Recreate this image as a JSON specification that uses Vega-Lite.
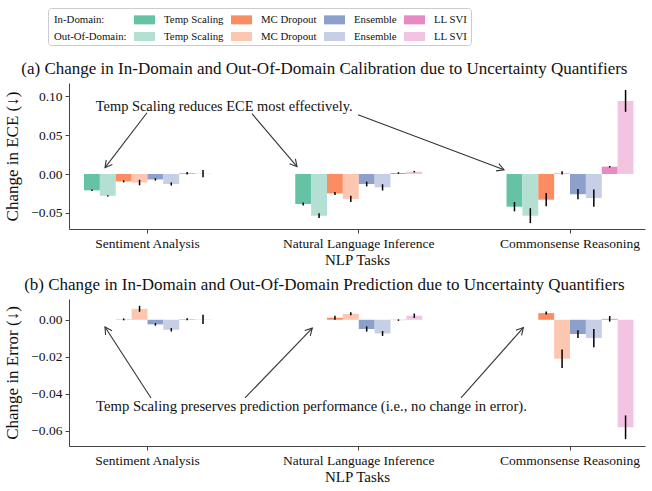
{
  "$schema": "https://vega.github.io/schema/vega-lite/v6.json",
  "background": "white",
  "padding": {"left": 3, "top": 7, "right": 5, "bottom": 5},
  "config": {
    "font": "Liberation Serif",
    "view": {"stroke": null},
    "axis": {"labelFont": "Liberation Serif", "titleFont": "Liberation Serif", "labelFontSize": 13.5, "titleFontSize": 17, "titleFontWeight": "normal", "domainColor": "#444", "tickColor": "#444", "labelColor": "#111", "titleColor": "#111", "grid": false, "tickSize": 4, "labelPadding": 3},
    "axisX": {"titleFontSize": 15},
    "title": {"font": "Liberation Serif", "fontSize": 17, "fontWeight": "normal", "color": "#111", "frame": "bounds", "anchor": "middle", "offset": 5},
    "legend": {"labelFont": "Liberation Serif", "labelColor": "#111"}
  },
  "datasets": {
    "ece": [
      {"task": "Sentiment Analysis", "series": "Temp Scaling|in", "value": -0.021, "err": 0.001},
      {"task": "Sentiment Analysis", "series": "Temp Scaling|out", "value": -0.028, "err": 0.0008},
      {"task": "Sentiment Analysis", "series": "MC Dropout|in", "value": -0.0095, "err": 0.0012},
      {"task": "Sentiment Analysis", "series": "MC Dropout|out", "value": -0.011, "err": 0.0035},
      {"task": "Sentiment Analysis", "series": "Ensemble|in", "value": -0.007, "err": 0.0015},
      {"task": "Sentiment Analysis", "series": "Ensemble|out", "value": -0.0128, "err": 0.002},
      {"task": "Sentiment Analysis", "series": "LL SVI|in", "value": 0.001, "err": 0.0015},
      {"task": "Sentiment Analysis", "series": "LL SVI|out", "value": 0.0005, "err": 0.0047},
      {"task": "Natural Language Inference", "series": "Temp Scaling|in", "value": -0.0386, "err": 0.002},
      {"task": "Natural Language Inference", "series": "Temp Scaling|out", "value": -0.0536, "err": 0.003},
      {"task": "Natural Language Inference", "series": "MC Dropout|in", "value": -0.025, "err": 0.002},
      {"task": "Natural Language Inference", "series": "MC Dropout|out", "value": -0.032, "err": 0.004},
      {"task": "Natural Language Inference", "series": "Ensemble|in", "value": -0.0129, "err": 0.003},
      {"task": "Natural Language Inference", "series": "Ensemble|out", "value": -0.0172, "err": 0.004},
      {"task": "Natural Language Inference", "series": "LL SVI|in", "value": 0.0013, "err": 0.001},
      {"task": "Natural Language Inference", "series": "LL SVI|out", "value": 0.003, "err": 0.001},
      {"task": "Commonsense Reasoning", "series": "Temp Scaling|in", "value": -0.042, "err": 0.006},
      {"task": "Commonsense Reasoning", "series": "Temp Scaling|out", "value": -0.0536, "err": 0.0096},
      {"task": "Commonsense Reasoning", "series": "MC Dropout|in", "value": -0.033, "err": 0.0085},
      {"task": "Commonsense Reasoning", "series": "MC Dropout|out", "value": 0.0015, "err": 0.002},
      {"task": "Commonsense Reasoning", "series": "Ensemble|in", "value": -0.026, "err": 0.0066},
      {"task": "Commonsense Reasoning", "series": "Ensemble|out", "value": -0.031, "err": 0.011},
      {"task": "Commonsense Reasoning", "series": "LL SVI|in", "value": 0.0094, "err": 0.001},
      {"task": "Commonsense Reasoning", "series": "LL SVI|out", "value": 0.094, "err": 0.014}
    ],
    "err": [
      {"task": "Sentiment Analysis", "series": "Temp Scaling|in", "value": 0.0, "err": 0.0},
      {"task": "Sentiment Analysis", "series": "Temp Scaling|out", "value": 0.0, "err": 0.0},
      {"task": "Sentiment Analysis", "series": "MC Dropout|in", "value": 0.0002, "err": 0.0005},
      {"task": "Sentiment Analysis", "series": "MC Dropout|out", "value": 0.0059, "err": 0.0016},
      {"task": "Sentiment Analysis", "series": "Ensemble|in", "value": -0.0025, "err": 0.0007},
      {"task": "Sentiment Analysis", "series": "Ensemble|out", "value": -0.0054, "err": 0.0009},
      {"task": "Sentiment Analysis", "series": "LL SVI|in", "value": 0.0003, "err": 0.0005},
      {"task": "Sentiment Analysis", "series": "LL SVI|out", "value": 0.0002, "err": 0.0025},
      {"task": "Natural Language Inference", "series": "Temp Scaling|in", "value": 0.0, "err": 0.0},
      {"task": "Natural Language Inference", "series": "Temp Scaling|out", "value": 0.0, "err": 0.0},
      {"task": "Natural Language Inference", "series": "MC Dropout|in", "value": 0.0011, "err": 0.0011},
      {"task": "Natural Language Inference", "series": "MC Dropout|out", "value": 0.0032, "err": 0.0008},
      {"task": "Natural Language Inference", "series": "Ensemble|in", "value": -0.005, "err": 0.0014},
      {"task": "Natural Language Inference", "series": "Ensemble|out", "value": -0.0074, "err": 0.0013},
      {"task": "Natural Language Inference", "series": "LL SVI|in", "value": -0.0002, "err": 0.0004},
      {"task": "Natural Language Inference", "series": "LL SVI|out", "value": 0.0022, "err": 0.0012},
      {"task": "Commonsense Reasoning", "series": "Temp Scaling|in", "value": 0.0, "err": 0.0},
      {"task": "Commonsense Reasoning", "series": "Temp Scaling|out", "value": 0.0, "err": 0.0},
      {"task": "Commonsense Reasoning", "series": "MC Dropout|in", "value": 0.0036, "err": 0.0008},
      {"task": "Commonsense Reasoning", "series": "MC Dropout|out", "value": -0.021, "err": 0.005},
      {"task": "Commonsense Reasoning", "series": "Ensemble|in", "value": -0.0077, "err": 0.0021},
      {"task": "Commonsense Reasoning", "series": "Ensemble|out", "value": -0.0099, "err": 0.0049},
      {"task": "Commonsense Reasoning", "series": "LL SVI|in", "value": 0.0005, "err": 0.0015},
      {"task": "Commonsense Reasoning", "series": "LL SVI|out", "value": -0.058, "err": 0.0064}
    ],
    "noteA": [{"label": "Temp Scaling reduces ECE most effectively.", "u": 0.363, "y": 0.0865}],
    "arrowsA": [
      {"u0": -0.0024, "y0": 0.0788, "u1": -0.201, "y1": 0.0081, "angle": 127.4},
      {"u0": 0.4947, "y0": 0.0775, "u1": 0.7077, "y1": 0.0094, "angle": 49.7},
      {"u0": 0.9964, "y0": 0.0762, "u1": 1.6876, "y1": 0.0055, "angle": 20.6}
    ],
    "noteB": [{"label": "Temp Scaling preserves prediction performance (i.e., no change in error).", "u": 0.776, "y": -0.047}],
    "arrowsB": [
      {"u0": 0.0166, "y0": -0.0422, "u1": -0.2012, "y1": -0.0039, "angle": 237.1},
      {"u0": 0.4615, "y0": -0.0422, "u1": 0.7801, "y1": -0.0045, "angle": -46.3},
      {"u0": 1.484, "y0": -0.0422, "u1": 1.779, "y1": -0.0042, "angle": -48.5}
    ]
  },
  "resolve": {"scale": {"color": "shared"}},
  "spacing": 8,
  "vconcat": [
    {
      "width": 576,
      "height": 146,
      "title": {"text": "(a) Change in In-Domain and Out-Of-Domain Calibration due to Uncertainty Quantifiers"},
      "resolve": {"scale": {"x": "independent"}},
      "layer": [
        {
          "data": {"name": "ece"},
          "layer": [
            {
              "mark": {"type": "bar"},
              "encoding": {
                "x": {"field": "task", "type": "nominal", "sort": ["Sentiment Analysis", "Natural Language Inference", "Commonsense Reasoning"], "scale": {"paddingInner": 0.399, "paddingOuter": 0.0627, "align": 0.566}, "title": "NLP Tasks", "axis": {"labelAngle": 0, "titlePadding": 3}},
                "xOffset": {"field": "series", "type": "nominal", "sort": ["Temp Scaling|in", "Temp Scaling|out", "MC Dropout|in", "MC Dropout|out", "Ensemble|in", "Ensemble|out", "LL SVI|in", "LL SVI|out"], "scale": {"paddingInner": 0, "paddingOuter": 0}},
                "y": {"field": "value", "type": "quantitative", "scale": {"domain": [-0.0707, 0.117], "nice": false, "zero": false}, "title": "Change in ECE (↓)", "axis": {"values": [-0.05, 0, 0.05, 0.1], "format": ".2f", "titlePadding": 9}},
                "color": {
                  "field": "series", "type": "nominal",
                  "scale": {
                    "domain": ["In-Domain:", "Temp Scaling|in", "MC Dropout|in", "Ensemble|in", "LL SVI|in", "Out-Of-Domain:", "Temp Scaling|out", "MC Dropout|out", "Ensemble|out", "LL SVI|out"],
                    "range": ["transparent", "#66c2a5", "#fc8d62", "#8da0cb", "#e78ac3", "transparent", "#b3e0d2", "#fdc6b0", "#c6cfe5", "#f3c4e1"]
                  },
                  "legend": {
                    "title": null, "orient": "none", "legendX": -21, "legendY": -75, "columns": 5, "direction": "horizontal",
                    "labelExpr": "split(datum.label, '|')[0]",
                    "symbolType": "M-1.235,-0.53H1.235V0.53H-1.235Z", "symbolSize": 289, "symbolStrokeWidth": 0,
                    "labelFontSize": 10.8, "labelOffset": 11, "columnPadding": 7, "rowPadding": 3,
                    "strokeColor": "#cccccc", "cornerRadius": 3, "fillColor": "white", "padding": 3,
                    "encode": {"labels": {"update": {"dx": {"signal": "indexof(['In-Domain:', 'Out-Of-Domain:'], datum.value) >= 0 ? -25 : 0"}}}}
                  }
                }
              }
            },
            {
              "mark": {"type": "errorbar", "color": "black", "thickness": 1.5},
              "encoding": {
                "x": {"field": "task", "type": "nominal", "sort": ["Sentiment Analysis", "Natural Language Inference", "Commonsense Reasoning"], "scale": {"paddingInner": 0.399, "paddingOuter": 0.0627, "align": 0.566}},
                "xOffset": {"field": "series", "type": "nominal", "sort": ["Temp Scaling|in", "Temp Scaling|out", "MC Dropout|in", "MC Dropout|out", "Ensemble|in", "Ensemble|out", "LL SVI|in", "LL SVI|out"], "scale": {"paddingInner": 0, "paddingOuter": 0}},
                "y": {"field": "value", "type": "quantitative", "title": "Change in ECE (↓)"},
                "yError": {"field": "err"}
              }
            }
          ]
        },
        {
          "layer": [
            {
              "data": {"name": "noteA"},
              "mark": {"type": "text", "fontSize": 14.4, "color": "#111"},
              "encoding": {
                "x": {"field": "u", "type": "quantitative", "scale": {"domain": [-0.3716, 2.355], "nice": false, "zero": false}, "axis": null},
                "y": {"field": "y", "type": "quantitative", "title": "Change in ECE (↓)"},
                "text": {"field": "label"}
              }
            },
            {
              "data": {"name": "arrowsA"},
              "mark": {"type": "rule", "color": "#333", "strokeWidth": 1.1},
              "encoding": {
                "x": {"field": "u0", "type": "quantitative", "scale": {"domain": [-0.3716, 2.355], "nice": false, "zero": false}, "axis": null},
                "x2": {"field": "u1"},
                "y": {"field": "y0", "type": "quantitative", "title": "Change in ECE (↓)"},
                "y2": {"field": "y1"}
              }
            },
            {
              "data": {"name": "arrowsA"},
              "mark": {"type": "point", "shape": "M-1,-0.55L0,0L-1,0.55", "filled": false, "size": 196, "color": "#333", "strokeWidth": 1.1, "opacity": 1},
              "encoding": {
                "x": {"field": "u1", "type": "quantitative", "scale": {"domain": [-0.3716, 2.355], "nice": false, "zero": false}, "axis": null},
                "y": {"field": "y1", "type": "quantitative", "title": "Change in ECE (↓)"},
                "angle": {"field": "angle", "type": "quantitative", "scale": null}
              }
            }
          ]
        }
      ]
    },
    {
      "width": 576,
      "height": 147,
      "title": {"text": "(b) Change in In-Domain and Out-Of-Domain Prediction due to Uncertainty Quantifiers"},
      "resolve": {"scale": {"x": "independent"}},
      "layer": [
        {
          "data": {"name": "err"},
          "layer": [
            {
              "mark": {"type": "bar"},
              "encoding": {
                "x": {"field": "task", "type": "nominal", "sort": ["Sentiment Analysis", "Natural Language Inference", "Commonsense Reasoning"], "scale": {"paddingInner": 0.399, "paddingOuter": 0.0627, "align": 0.566}, "title": "NLP Tasks", "axis": {"labelAngle": 0, "titlePadding": 3}},
                "xOffset": {"field": "series", "type": "nominal", "sort": ["Temp Scaling|in", "Temp Scaling|out", "MC Dropout|in", "MC Dropout|out", "Ensemble|in", "Ensemble|out", "LL SVI|in", "LL SVI|out"], "scale": {"paddingInner": 0, "paddingOuter": 0}},
                "y": {"field": "value", "type": "quantitative", "scale": {"domain": [-0.0681, 0.0112], "nice": false, "zero": false}, "title": "Change in Error (↓)", "axis": {"values": [-0.06, -0.04, -0.02, 0], "format": ".2f", "titlePadding": 9}},
                "color": {"field": "series", "type": "nominal"}
              }
            },
            {
              "mark": {"type": "errorbar", "color": "black", "thickness": 1.5},
              "encoding": {
                "x": {"field": "task", "type": "nominal", "sort": ["Sentiment Analysis", "Natural Language Inference", "Commonsense Reasoning"], "scale": {"paddingInner": 0.399, "paddingOuter": 0.0627, "align": 0.566}},
                "xOffset": {"field": "series", "type": "nominal", "sort": ["Temp Scaling|in", "Temp Scaling|out", "MC Dropout|in", "MC Dropout|out", "Ensemble|in", "Ensemble|out", "LL SVI|in", "LL SVI|out"], "scale": {"paddingInner": 0, "paddingOuter": 0}},
                "y": {"field": "value", "type": "quantitative", "title": "Change in Error (↓)"},
                "yError": {"field": "err"}
              }
            }
          ]
        },
        {
          "layer": [
            {
              "data": {"name": "noteB"},
              "mark": {"type": "text", "fontSize": 14.7, "color": "#111"},
              "encoding": {
                "x": {"field": "u", "type": "quantitative", "scale": {"domain": [-0.3716, 2.355], "nice": false, "zero": false}, "axis": null},
                "y": {"field": "y", "type": "quantitative", "title": "Change in Error (↓)"},
                "text": {"field": "label"}
              }
            },
            {
              "data": {"name": "arrowsB"},
              "mark": {"type": "rule", "color": "#333", "strokeWidth": 1.1},
              "encoding": {
                "x": {"field": "u0", "type": "quantitative", "scale": {"domain": [-0.3716, 2.355], "nice": false, "zero": false}, "axis": null},
                "x2": {"field": "u1"},
                "y": {"field": "y0", "type": "quantitative", "title": "Change in Error (↓)"},
                "y2": {"field": "y1"}
              }
            },
            {
              "data": {"name": "arrowsB"},
              "mark": {"type": "point", "shape": "M-1,-0.55L0,0L-1,0.55", "filled": false, "size": 196, "color": "#333", "strokeWidth": 1.1, "opacity": 1},
              "encoding": {
                "x": {"field": "u1", "type": "quantitative", "scale": {"domain": [-0.3716, 2.355], "nice": false, "zero": false}, "axis": null},
                "y": {"field": "y1", "type": "quantitative", "title": "Change in Error (↓)"},
                "angle": {"field": "angle", "type": "quantitative", "scale": null}
              }
            }
          ]
        }
      ]
    }
  ]
}
